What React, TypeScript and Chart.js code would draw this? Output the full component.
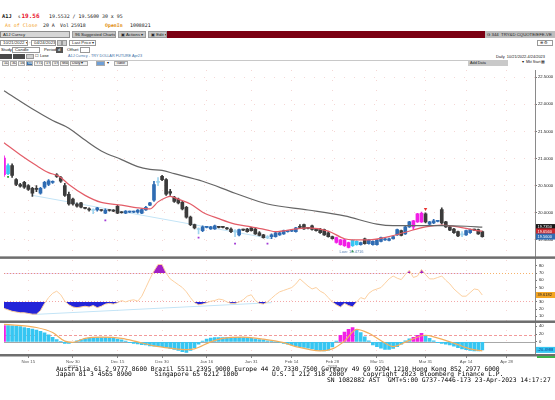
import React, { useEffect, useRef } from 'react';
import { Chart, registerables } from 'chart.js';

Chart.register(...registerables);

// ---------------- calendar (all weekdays) ----------------
function weekdayLabels(start: string, end: string): string[] {
  const out: string[] = [];
  const d = new Date(start + 'T00:00:00Z');
  const e = new Date(end + 'T00:00:00Z');
  while (d <= e) {
    const wd = d.getUTCDay();
    if (wd !== 0 && wd !== 6) out.push(d.toISOString().slice(0, 10));
    d.setUTCDate(d.getUTCDate() + 1);
  }
  return out;
}
const dates = weekdayLabels('2022-11-07', '2023-05-09');

const tickDates = ['2022-11-15', '2022-11-30', '2022-12-15', '2022-12-30', '2023-01-16', '2023-01-31', '2023-02-14', '2023-02-28', '2023-03-15', '2023-03-31', '2023-04-14', '2023-04-28'];
const tickTexts = ['Nov 15', 'Nov 30', 'Dec 15', 'Dec 30', 'Jan 16', 'Jan 31', 'Feb 14', 'Feb 28', 'Mar 15', 'Mar 31', 'Apr 14', 'Apr 28'];
const yearDates = ['2022-11-30', '2023-02-28'];
const yearTexts = ['2022', '2023'];

// ---------------- price (OHLC) ----------------
const opens = [
  21.01, 20.72, 20.87, 20.61, 20.52, 20.56, 20.50, 20.45, 20.45, 20.36,
  20.47, 20.52, 20.56, 20.70, 20.65, 20.50, 20.34, 20.25, 20.16, 20.18,
  20.09, 20.07, 20.04, 20.05, 20.05, 19.99, 20.05, 20.05, 20.12, 20.01,
  19.99, 20.01, 20.01, 20.01, 19.99, 20.05, 20.14, 20.23, 20.56, 20.67,
  20.61, 20.39, 20.29, 20.25, 20.19, 20.10, 19.92, 19.78, 19.70, 19.67,
  19.73, 19.70, 19.70, 19.74, 19.74, 19.72, 19.70, 19.67, 19.59, 19.69,
  19.70, 19.72, 19.70, 19.63, 19.59, 19.56, 19.56, 19.56, 19.59, 19.61,
  19.65, 19.66, 19.65, 19.74, 19.78, 19.72, 19.76, 19.70, 19.70, 19.69,
  19.63, 19.56, 19.54, 19.50, 19.50, 19.45, 19.39, 19.41, 19.41, 19.52,
  19.43, 19.41, 19.41, 19.47, 19.50, 19.49, 19.52, 19.59, 19.67, 19.61,
  19.74, 19.74, 19.83, 19.83, 19.98, 19.79, 19.81, 19.84, 20.06, 19.83,
  19.74, 19.70, 19.65, 19.61, 19.59, 19.63, 19.69, 19.69, 19.65,
];
const closes = [
  20.70, 20.87, 20.69, 20.52, 20.49, 20.47, 20.43, 20.36, 20.43, 20.45,
  20.56, 20.59, 20.57, 20.67, 20.58, 20.32, 20.16, 20.16, 20.12, 20.10,
  20.08, 20.05, 20.05, 20.09, 20.04, 20.05, 20.04, 20.03, 19.99, 20.00,
  20.03, 20.02, 20.02, 20.05, 20.06, 20.10, 20.18, 20.52, 20.57, 20.61,
  20.34, 20.36, 20.21, 20.18, 20.07, 19.92, 19.78, 19.72, 19.69, 19.74,
  19.74, 19.74, 19.76, 19.73, 19.73, 19.70, 19.65, 19.65, 19.69, 19.68,
  19.65, 19.67, 19.61, 19.58, 19.54, 19.54, 19.59, 19.63, 19.63, 19.67,
  19.66, 19.67, 19.72, 19.73, 19.70, 19.71, 19.69, 19.67, 19.63, 19.59,
  19.56, 19.52, 19.45, 19.41, 19.39, 19.36, 19.49, 19.47, 19.45, 19.43,
  19.50, 19.47, 19.50, 19.54, 19.52, 19.52, 19.56, 19.69, 19.58, 19.74,
  19.83, 19.85, 19.98, 19.99, 19.83, 19.83, 19.85, 19.85, 19.81, 19.74,
  19.68, 19.63, 19.57, 19.59, 19.67, 19.69, 19.68, 19.61, 19.56,
];
const highs = [
  21.05, 20.90, 20.90, 20.63, 20.54, 20.58, 20.52, 20.47, 20.50, 20.47,
  20.58, 20.61, 20.59, 20.72, 20.67, 20.54, 20.38, 20.27, 20.18, 20.19,
  20.10, 20.09, 20.07, 20.10, 20.06, 20.07, 20.06, 20.06, 20.14, 20.02,
  20.04, 20.03, 20.03, 20.06, 20.07, 20.12, 20.19, 20.58, 20.65, 20.69,
  20.63, 20.43, 20.30, 20.27, 20.21, 20.12, 19.94, 19.79, 19.72, 19.76,
  19.75, 19.75, 19.77, 19.75, 19.75, 19.73, 19.72, 19.69, 19.70, 19.70,
  19.71, 19.73, 19.72, 19.65, 19.60, 19.58, 19.61, 19.65, 19.64, 19.68,
  19.67, 19.68, 19.73, 19.78, 19.79, 19.73, 19.77, 19.71, 19.71, 19.70,
  19.65, 19.57, 19.55, 19.51, 19.51, 19.46, 19.50, 19.48, 19.46, 19.53,
  19.51, 19.48, 19.51, 19.55, 19.53, 19.53, 19.57, 19.70, 19.68, 19.75,
  19.84, 19.86, 19.99, 20.01, 20.00, 19.84, 19.88, 19.86, 20.09, 19.84,
  19.75, 19.71, 19.66, 19.65, 19.68, 19.70, 19.70, 19.70, 19.66,
];
const lows = [
  20.67, 20.70, 20.65, 20.50, 20.47, 20.45, 20.41, 20.30, 20.39, 20.34,
  20.45, 20.50, 20.54, 20.65, 20.56, 20.30, 20.14, 20.14, 20.10, 20.09,
  20.07, 20.03, 19.98, 20.03, 20.03, 19.98, 20.03, 20.02, 19.98, 19.99,
  19.98, 20.00, 20.00, 19.99, 19.98, 20.04, 20.13, 20.21, 20.50, 20.59,
  20.32, 20.32, 20.19, 20.16, 20.05, 19.90, 19.76, 19.70, 19.61, 19.65,
  19.72, 19.69, 19.69, 19.72, 19.72, 19.69, 19.63, 19.56, 19.57, 19.67,
  19.64, 19.66, 19.60, 19.57, 19.53, 19.52, 19.52, 19.55, 19.58, 19.60,
  19.64, 19.65, 19.64, 19.72, 19.69, 19.70, 19.68, 19.66, 19.62, 19.58,
  19.55, 19.51, 19.44, 19.40, 19.38, 19.35, 19.38, 19.40, 19.40, 19.42,
  19.42, 19.40, 19.40, 19.46, 19.49, 19.48, 19.51, 19.58, 19.57, 19.60,
  19.73, 19.69, 19.82, 19.82, 19.81, 19.78, 19.80, 19.83, 19.79, 19.73,
  19.67, 19.62, 19.56, 19.56, 19.58, 19.62, 19.67, 19.60, 19.55,
];
const magentaCandles = [0, 82, 83, 84, 85, 101, 102, 103];
const cyanCandles = [1, 86, 87];
const dojiCandles = [22, 38, 48, 57, 65, 113];

// moving averages (values read at selected sessions)
const maFastIdx = [0, 4, 8, 11, 13, 14, 16, 20, 24, 29, 33, 36, 38, 40, 41, 43, 46, 49, 53, 57, 61, 65, 67, 72, 75, 80, 84, 86, 90, 95, 99, 104, 108, 112, 116, 118];
const maFastVal = [21.29, 21.07, 20.87, 20.74, 20.69, 20.65, 20.52, 20.32, 20.19, 20.14, 20.09, 20.07, 20.20, 20.28, 20.30, 20.25, 20.16, 20.01, 19.89, 19.79, 19.74, 19.68, 19.65, 19.70, 19.72, 19.66, 19.52, 19.50, 19.50, 19.56, 19.64, 19.74, 19.77, 19.74, 19.68, 19.656];
const maSlowIdx = [0, 8, 12, 16, 20, 24, 29, 33, 36, 39, 42, 49, 57, 65, 75, 84, 92, 96, 100, 108, 114, 118];
const maSlowVal = [22.25, 21.87, 21.70, 21.56, 21.34, 21.14, 20.98, 20.85, 20.80, 20.78, 20.72, 20.58, 20.36, 20.16, 20.05, 19.94, 19.79, 19.76, 19.76, 19.76, 19.75, 19.735];
const trendIdx = [7, 66];
const trendVal = [20.32, 19.52];

// signal markers
const purpleDotIdx = [25, 48, 57, 65];
const purpleDotVal = [19.86, 19.54, 19.43, 19.43];
const greenDotIdx = [1];
const greenDotVal = [20.66];
const redArrowIdx = [104];
const redArrowVal = [20.07];
const lowMarkIdx = [86];
const lowMarkVal = [19.285];
const lowLabel = 'Low: 19.4716';
const lowLabelIdx = 85;

// ---------------- RSI ----------------
const rsi = [
  21, 19, 17, 16, 15, 15, 14, 13, 13, 18,
  28, 36, 42, 45, 40, 31, 26, 23, 22, 23,
  24, 23, 25, 22, 24, 27, 28, 27, 29, 32,
  30, 32, 33, 31, 38, 50, 62, 73, 82, 82,
  70, 62, 58, 54, 50, 44, 36, 29, 26, 27,
  29, 31, 32, 34, 33, 30, 28, 28, 30, 33,
  38, 40, 32, 28, 27, 30, 35, 40, 44, 46,
  48, 50, 55, 62, 57, 52, 48, 50, 45, 42,
  36, 30, 26, 23, 28, 25, 23, 30, 36, 34,
  42, 46, 48, 50, 56, 62, 66, 63, 61, 68,
  74, 64, 66, 75, 68, 62, 62, 64, 66, 60,
  55, 48, 43, 38, 38, 43, 48, 47, 39.6182,
];
const rsiTrendIdx = [7, 66];
const rsiTrendVal = [12.5, 29];
const rsiTicks = [10, 20, 30, 40, 50, 60, 70, 80];
const rsiUpper = 70;
const rsiLower = 30;

// ---------------- MACD ----------------
const macdHist = [
  42, 42, 41, 40, 39, 37, 35, 33, 30, 27,
  23, 18, 12, 6, 1, -4, -4, -2, 3, 6,
  8, 10, 10, 11, 11, 11, 10, 9, 7, 5,
  2, -2, -4, -5, -7, -8, -10, -11, -11, -12,
  -14, -17, -19, -22, -25, -27, -22, -15, -6, 2,
  7, 10, 11, 11, 11, 11, 11, 12, 12, 11,
  10, 9, 8, 6, 5, 3, 2, 0, -2, -4,
  -6, -8, -10, -12, -14, -16, -18, -20, -22, -23,
  -21, -13, 2, 17, 25, 32, 37, 32, 24, 13,
  3, -8, -12, -16, -19, -19, -17, -12, -6, 3,
  8, 12, 17, 22, 16, 9, 3, -2, -4, -6,
  -8, -11, -15, -18, -20, -22, -23, -23, -20.4988,
];
const macdMagenta = [0, 83, 84, 85, 86, 101, 102, 103];
const macdSignalIdx = [0, 8, 12, 15, 17, 20, 24, 29, 33, 37, 41, 45, 47, 51, 54, 59, 64, 69, 72, 78, 81, 84, 87, 90, 94, 96, 100, 104, 106, 111, 115, 118];
const macdSignalVal = [45, 37, 24, 2, -1, 9, 12, 9, 0, -10, -16, -20, -18, 0, 9, 12, 7, -2, -12, -23, -18, 2, 32, 22, -3, -12, 4, 17, 13, -3, -18, -23];
const macdTicks = [40, 20, 0, -20];
const macdTrigger = 18;

const mainTicks = [19.5, 20.0, 20.5, 21.0, 21.5, 22.0, 22.5];

// ---------------- styles ----------------
const MONO = "'DejaVu Sans Mono', monospace";
const SANS = "'Liberation Sans', Arial, sans-serif";
const UP = '#2f6cb3';
const DOWN = '#3b3b3b';
const MAG = '#f21ee6';
const CYA = '#36c6f2';
const DOJI = '#9fd4ef';

function sparse(idx: number[], vals: number[]) {
  const a: (number | null)[] = dates.map(() => null);
  idx.forEach((k, j) => { a[k] = vals[j]; });
  return a;
}

function candleColor(i: number) {
  if (magentaCandles.includes(i)) return MAG;
  if (cyanCandles.includes(i)) return CYA;
  if (dojiCandles.includes(i)) return DOJI;
  return closes[i] >= opens[i] ? UP : DOWN;
}

const Txt = (p: any) => (
  <div style={{ position: 'absolute', left: p.x, top: p.y, fontSize: p.s || 5, lineHeight: 1, color: p.c || '#111', fontWeight: p.b ? 700 : 400, fontFamily: p.f || MONO, whiteSpace: 'pre' }}>{p.children}</div>
);
const Box = (p: any) => (
  <div style={{ position: 'absolute', left: p.x, top: p.y, width: p.w, height: p.h, background: p.bg || '#fff', border: p.bd ? `1px solid ${p.bd}` : 'none', boxSizing: 'border-box', fontSize: p.s || 4.3, lineHeight: (p.h - (p.bd ? 2 : 0)) + 'px', paddingLeft: p.pl === undefined ? 2 : p.pl, color: p.c || '#222', overflow: 'hidden', whiteSpace: 'pre', fontFamily: SANS, textAlign: p.center ? 'center' : 'left' }}>{p.children}</div>
);

export default function App() {
  const ref = useRef<HTMLCanvasElement>(null);

  useEffect(() => {
    const n = opens.length;
    const colors = opens.map((_, i) => candleColor(i));
    const tickIdx = tickDates.map((d) => dates.indexOf(d));
    const isTick = (i: number) => tickIdx.includes(i);

    const decor = {
      id: 'decor',
      beforeDatasetsDraw(chart: any) {
        const { ctx, chartArea } = chart;
        const m = chart.scales.macd;
        ctx.save();
        ctx.lineWidth = 1;
        ctx.strokeStyle = '#a8a8a8';
        let y = Math.round(m.getPixelForValue(0)) + 0.5;
        ctx.beginPath(); ctx.moveTo(chartArea.left, y); ctx.lineTo(chartArea.right, y); ctx.stroke();
        ctx.strokeStyle = '#f29a9a';
        ctx.setLineDash([3, 2]);
        y = Math.round(m.getPixelForValue(macdTrigger)) + 0.5;
        ctx.beginPath(); ctx.moveTo(chartArea.left, y); ctx.lineTo(chartArea.right, y); ctx.stroke();
        ctx.restore();
      },
      afterDraw(chart: any) {
        const { ctx } = chart;
        const W = chart.width;
        const ys = chart.scales.y, rs = chart.scales.rsi, ms = chart.scales.macd, xs = chart.scales.x;
        ctx.save();
        // low label
        ctx.font = `4px ${SANS}`;
        ctx.fillStyle = '#5b83b5';
        ctx.textAlign = 'center';
        ctx.textBaseline = 'middle';
        ctx.fillText(lowLabel, xs.getPixelForValue(lowLabelIdx) + 3, ys.getPixelForValue(lowMarkVal[0]));
        // panel separators
        ctx.fillStyle = '#6e6e6e';
        [rs.top, ms.top, ms.bottom].forEach((yy: number) => ctx.fillRect(0, yy - 1, W, 2.5));
        // value boxes
        const box = (scale: any, v: number, bg: string, fg: string, text: string) => {
          const yy = scale.getPixelForValue(v);
          ctx.fillStyle = bg;
          ctx.fillRect(536, yy - 3, 19, 6);
          ctx.fillStyle = fg;
          ctx.font = `4px ${SANS}`;
          ctx.textAlign = 'left';
          ctx.textBaseline = 'middle';
          ctx.fillText(text, 537.5, yy + 0.3);
        };
        const slowLast = maSlowVal[maSlowVal.length - 1];
        const fastLast = maFastVal[maFastVal.length - 1];
        const closeLast = closes[n - 1];
        box(ys, slowLast, '#161616', '#fff', slowLast.toFixed(4));
        box(ys, fastLast, '#c8282f', '#fff', fastLast.toFixed(4));
        box(ys, closeLast, '#2f6cb3', '#fff', closeLast.toFixed(4));
        box(rs, rsi[n - 1], '#f5a623', '#222', rsi[n - 1].toFixed(4));
        box(ms, macdHist[n - 1], '#36c6f2', '#0d3d8a', macdHist[n - 1].toFixed(4));
        ctx.restore();
      },
    };

    const gridDot = 'rgba(236,165,160,0.45)';
    const yFit = (s: any) => { s.width = 20; s.paddingTop = 0; s.paddingBottom = 0; };

    const config: any = {
      type: 'bar',
      data: {
        labels: dates,
        datasets: [
          { type: 'line', data: sparse(purpleDotIdx, purpleDotVal), yAxisID: 'y', showLine: false, pointStyle: 'rect', pointRadius: 1.3, pointBackgroundColor: '#a23bd6', pointBorderWidth: 0, order: 0 },
          { type: 'line', data: sparse(greenDotIdx, greenDotVal), yAxisID: 'y', showLine: false, pointStyle: 'rect', pointRadius: 1.3, pointBackgroundColor: '#2aa52a', pointBorderWidth: 0, order: 0 },
          { type: 'line', data: sparse(redArrowIdx, redArrowVal), yAxisID: 'y', showLine: false, pointStyle: 'triangle', rotation: 180, pointRadius: 2, pointBackgroundColor: '#e8322f', pointBorderWidth: 0, order: 0 },
          { type: 'line', data: sparse(lowMarkIdx, lowMarkVal), yAxisID: 'y', showLine: false, pointStyle: 'triangle', pointRadius: 1.6, pointBackgroundColor: '#2aa52a', pointBorderWidth: 0, order: 0 },
          { type: 'line', data: sparse(maSlowIdx, maSlowVal), yAxisID: 'y', borderColor: '#666666', borderWidth: 1.2, pointRadius: 0, spanGaps: true, cubicInterpolationMode: 'monotone', order: 1 },
          { type: 'line', data: sparse(maFastIdx, maFastVal), yAxisID: 'y', borderColor: '#e35d68', borderWidth: 1.2, pointRadius: 0, spanGaps: true, cubicInterpolationMode: 'monotone', order: 1 },
          { type: 'bar', data: opens.map((o, i) => [o, closes[i]]), yAxisID: 'y', backgroundColor: colors, borderWidth: 0, barThickness: 3, minBarLength: 1, grouped: false, order: 2 },
          { type: 'bar', data: lows.map((l, i) => [l, highs[i]]), yAxisID: 'y', backgroundColor: colors, borderWidth: 0, barThickness: 1, grouped: false, order: 3 },
          { type: 'line', data: sparse(trendIdx, trendVal), yAxisID: 'y', borderColor: '#c3e4f6', borderWidth: 1, pointRadius: 0, spanGaps: true, order: 4 },
          { type: 'line', data: rsi, yAxisID: 'rsi', borderColor: '#fcd0a0', borderWidth: 1, pointRadius: 0, tension: 0, fill: { target: { value: rsiLower }, above: 'rgba(0,0,0,0)', below: '#2424d8' }, order: 5 },
          { type: 'line', data: rsi, yAxisID: 'rsi', borderColor: 'rgba(0,0,0,0)', borderWidth: 0, pointRadius: 0, tension: 0, fill: { target: { value: rsiUpper }, above: '#a11fc7', below: 'rgba(0,0,0,0)' }, order: 6 },
          { type: 'line', data: sparse(rsiTrendIdx, rsiTrendVal), yAxisID: 'rsi', borderColor: '#c3e4f6', borderWidth: 1, pointRadius: 0, spanGaps: true, order: 7 },
          { type: 'line', data: sparse(macdSignalIdx, macdSignalVal), yAxisID: 'macd', borderColor: '#f3ae5c', borderWidth: 1.2, pointRadius: 0, spanGaps: true, cubicInterpolationMode: 'monotone', order: 8 },
          { type: 'bar', data: macdHist, yAxisID: 'macd', backgroundColor: macdHist.map((_, i) => (macdMagenta.includes(i) ? MAG : CYA)), borderWidth: 0, barThickness: 3, grouped: false, order: 9 },
        ],
      },
      options: {
        animation: false,
        responsive: false,
        devicePixelRatio: 1,
        layout: { padding: 0 },
        plugins: { legend: { display: false }, tooltip: { enabled: false } },
        scales: {
          x: {
            type: 'category',
            offset: false,
            grid: {
              offset: false,
              drawOnChartArea: true,
              color: (c: any) => (isTick(c.index) ? gridDot : 'rgba(0,0,0,0)'),
              tickColor: (c: any) => (isTick(c.index) ? '#8a8a8a' : 'rgba(0,0,0,0)'),
              tickLength: 3,
            },
            border: { display: false, dash: [1, 9] },
            ticks: {
              autoSkip: false,
              maxRotation: 0,
              minRotation: 0,
              padding: 1,
              color: '#555',
              font: { size: 4.3, family: SANS },
              callback: (_v: any, i: number) => {
                const d = dates[i];
                const k = tickDates.indexOf(d);
                if (k < 0) return '';
                const yk = yearDates.indexOf(d);
                return yk >= 0 ? [tickTexts[k], yearTexts[yk]] : tickTexts[k];
              },
            },
            afterFit: (s: any) => { s.height = 13; s.paddingLeft = 0; s.paddingRight = 0; },
          },
          y: {
            type: 'linear',
            position: 'right',
            stack: 'panels',
            stackWeight: 190,
            min: 19.176,
            max: 22.633,
            afterBuildTicks: (s: any) => { s.ticks = mainTicks.map((v) => ({ value: v })); },
            ticks: { autoSkip: false, color: '#222', padding: 1, font: { size: 4.2, family: SANS }, callback: (v: any) => Number(v).toFixed(4) },
            grid: { drawOnChartArea: true, color: gridDot, tickColor: '#777', tickLength: 2 },
            border: { display: true, color: '#8a8a8a', dash: [1, 9] },
            afterFit: yFit,
          },
          rsi: {
            type: 'linear',
            position: 'right',
            stack: 'panels',
            stackWeight: 65,
            min: 2.88,
            max: 91.9,
            afterBuildTicks: (s: any) => { s.ticks = rsiTicks.map((v) => ({ value: v })); },
            ticks: { autoSkip: false, color: '#222', padding: 2, font: { size: 4.2, family: SANS } },
            grid: {
              drawOnChartArea: true,
              color: (c: any) => (c.tick && c.tick.value === rsiUpper ? '#f6b26b' : c.tick && c.tick.value === rsiLower ? '#f3a8a8' : 'rgba(0,0,0,0)'),
              tickColor: '#777',
              tickLength: 2,
            },
            border: { display: true, color: '#8a8a8a', dash: [1, 2] },
            afterFit: yFit,
          },
          macd: {
            type: 'linear',
            position: 'right',
            stack: 'panels',
            stackWeight: 34,
            min: -33.6,
            max: 52.4,
            afterBuildTicks: (s: any) => { s.ticks = macdTicks.map((v) => ({ value: v })); },
            ticks: { autoSkip: false, color: '#222', padding: 2, font: { size: 4.2, family: SANS } },
            grid: { drawOnChartArea: false, tickColor: '#777', tickLength: 2 },
            border: { display: true, color: '#8a8a8a' },
            afterFit: yFit,
          },
        },
      },
      plugins: [decor],
    };

    const chart = new Chart(ref.current as HTMLCanvasElement, config);
    return () => chart.destroy();
  }, []);

  const btns: [string, number, number][] = [['1D', 2, 7], ['3D', 10, 7], ['1M', 18, 7], ['6M', 26, 7], ['YTD', 34, 9], ['1Y', 44, 7], ['5Y', 52, 7], ['Max', 60, 9], ['Daily \u25BE', 70, 18]];

  return (
    <div style={{ position: 'fixed', left: 0, top: 0, width: 555, height: 400, background: '#fff', overflow: 'hidden' }}>
      {/* quote lines */}
      <Txt x={2} y={13.5} s={5.3} b>A1J</Txt>
      <Txt x={18} y={14.5} s={4.2}>s</Txt>
      <Txt x={21.5} y={13} s={6} b c="#e8132b">19.56</Txt>
      <Txt x={49} y={14} s={4.9}>19.5532 / 19.5600</Txt>
      <Txt x={102} y={14} s={4.9}>30 x 95</Txt>
      <Txt x={5} y={22.5} s={4.9} c="#f29b18">As of Close</Txt>
      <Txt x={43} y={22.5} s={4.9}>20 A</Txt>
      <Txt x={60} y={22.5} s={4.9}>Vol</Txt>
      <Txt x={71} y={22.5} s={4.9}>25918</Txt>
      <Txt x={105} y={22.5} s={4.9} b c="#e08e0b">OpenIn</Txt>
      <Txt x={130} y={22.5} s={4.9}>1008821</Txt>

      {/* toolbar */}
      <Box x={0} y={30.5} w={70} h={7} bg="#d6d6d6" bd="#8c8c8c">A1J Curncy</Box>
      <Box x={72} y={30.5} w={44} h={7} bg="#c4c4c4" bd="#9a9a9a">96 Suggested Charts</Box>
      <Box x={118} y={30.5} w={28} h={7} bg="#c4c4c4" bd="#9a9a9a">{'\u25A3 Actions \u25BE'}</Box>
      <Box x={148} y={30.5} w={19} h={7} bg="#c4c4c4" bd="#9a9a9a">{'\u25A3 Edit \u25BE'}</Box>
      <Box x={167} y={30.5} w={318} h={7} bg="#7b0012" />
      <Box x={485} y={30.5} w={70} h={7} bg="#bdbdbd">G 344  TRY&amp;D CQUOTE/EFE-VE</Box>

      <Box x={0} y={40} w={28} h={6} bd="#999">{'10/21/2022 \u25BE'}</Box>
      <Txt x={28.5} y={41} s={4}>-</Txt>
      <Box x={31} y={40} w={25} h={6} bd="#999">{'04/24/2023 \u25BE'}</Box>
      <Box x={57} y={40} w={5} h={6} bg="#cfcfcf" bd="#999" />
      <Box x={62} y={40} w={5} h={6} bg="#cfcfcf" bd="#999" />
      <Box x={69} y={40} w={27} h={6} bd="#999">{'Last Price \u25BE'}</Box>
      <Box x={537} y={40} w={16} h={6} bd="#999">{'\u2295 \u2699'}</Box>

      <Txt x={1} y={48} s={4.3} f={SANS}>Study</Txt>
      <Box x={12} y={47} w={28} h={6} bd="#999">{'Candle          \u25BE'}</Box>
      <Txt x={44} y={48} s={4.3} f={SANS}>Period</Txt>
      <Box x={56} y={47} w={7} h={6} bg="#555" c="#fff">d</Box>
      <Txt x={67} y={48} s={4.3} f={SANS}>Offset</Txt>
      <Box x={80} y={47} w={10} h={6} bd="#999" />

      <Box x={0} y={53.5} w={12} h={5.5} bg="#4a4a4a" />
      <Box x={13} y={53.5} w={12} h={5.5} bg="#4a4a4a" />
      <Box x={26} y={53.5} w={8} h={5.5} bg="#d0d0d0" bd="#999" />
      <Txt x={35} y={54.3} s={4} f={SANS}>{'\u2610 Lose'}</Txt>
      <Txt x={68} y={54.5} s={3.8} f={SANS} c="#3d6fa6">A1J Curncy - TRY DOLLAR FUTURE Apr23</Txt>
      <Txt x={496} y={54.5} s={3.9} f={SANS}>{'Daily  10/21/2022-4/24/2023'}</Txt>

      <div style={{ position: 'absolute', left: 0, top: 60, width: 468, height: 1, background: '#c8c8c8' }} />
      {btns.map(([t, x, w]) => (
        <Box key={t} x={x} y={60.5} w={w} h={5.5} bg={t === '6M' ? '#3b6ea8' : '#f2f2f2'} bd="#aaa" c={t === '6M' ? '#fff' : '#222'} s={3.8} pl={1}>{t}</Box>
      ))}
      <Box x={96} y={60.5} w={9} h={5.5} bg="#6f9fd6" bd="#aaa" />
      <Txt x={107} y={61.5} s={3.8} f={SANS}>{'\u25BE'}</Txt>
      <Box x={114} y={60.5} w={14} h={5.5} bg="#f2f2f2" bd="#aaa" s={3.8} pl={1}>Table</Box>
      <Box x={468} y={60} w={40} h={6} bg="#c9c9c9" s={3.8}>Add Data</Box>
      <Txt x={522} y={61} s={3.6} f={SANS}>{'\u25BE  Mkt Start \u25A6'}</Txt>

      <canvas ref={ref} width={555} height={302} style={{ position: 'absolute', left: 0, top: 66, width: 555, height: 302 }} />
      <div style={{ position: 'absolute', left: 537, top: 356, width: 18, height: 2, background: '#3cb44b' }} />

      {/* footer */}
      <Txt x={56} y={366} s={6.3} c="#000">Australia 61 2 9777 8600 Brazil 5511 2395 9000 Europe 44 20 7330 7500 Germany 49 69 9204 1210 Hong Kong 852 2977 6000</Txt>
      <Txt x={56} y={371.2} s={6.3} c="#000">{'Japan 81 3 4565 8900      Singapore 65 6212 1000         U.S. 1 212 318 2000     Copyright 2023 Bloomberg Finance L.P.'}</Txt>
      <Txt x={327} y={377} s={6.3} c="#000">{'SN 1082882 AST  GMT+5:00 G737-7446-173 23-Apr-2023 14:17:27'}</Txt>
    </div>
  );
}
